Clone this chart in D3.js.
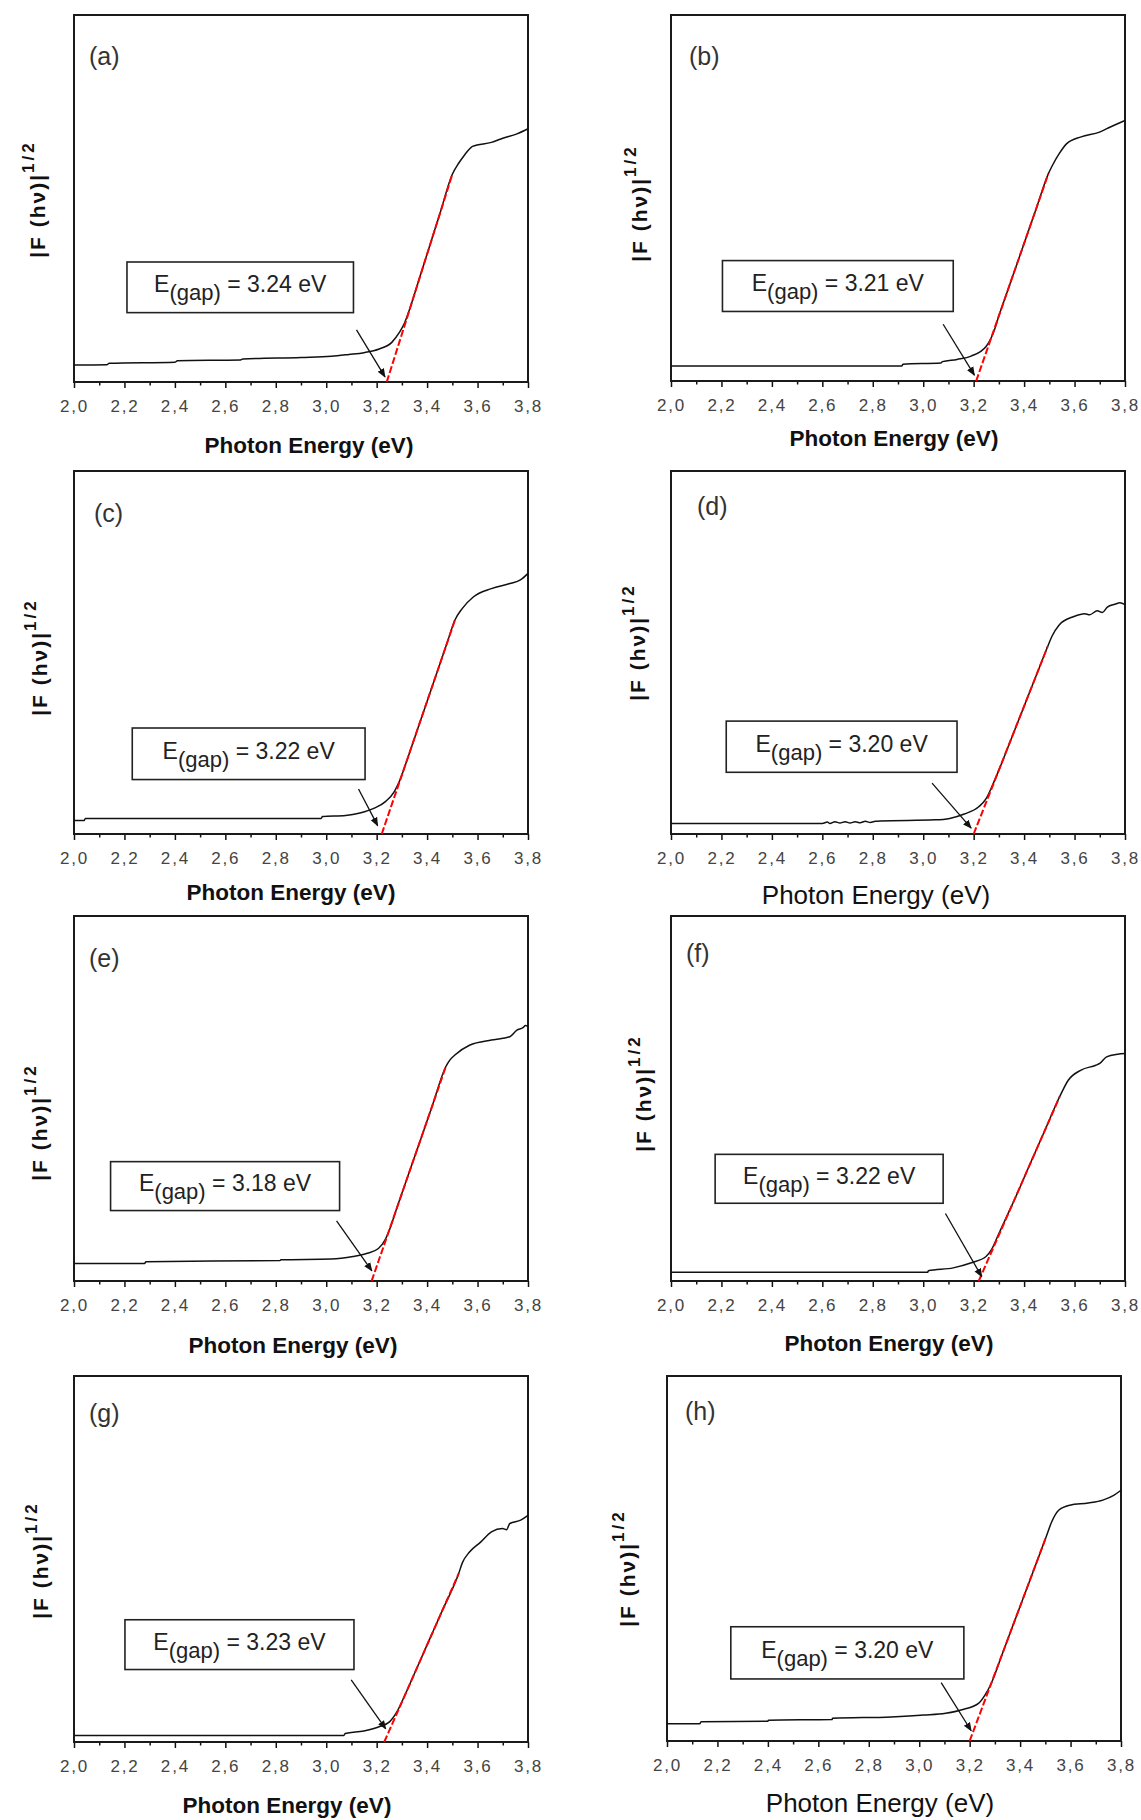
<!DOCTYPE html>
<html>
<head>
<meta charset="utf-8">
<script src="https://cdn.jsdelivr.net/npm/d3@7"></script>
<style>
  body { margin: 0; background: #fff; }
  svg text { font-family: "Liberation Sans", Arial, sans-serif; }
</style>
</head>
<body>
<div id="chart"></div>
<script>
// ---- data (x in eV, y as fraction of plot height) ----
var panelLetters = ["a", "b", "c", "d", "e", "f", "g", "h"];
var gapValues = [3.24, 3.21, 3.22, 3.20, 3.18, 3.22, 3.23, 3.20];
var xTicks = [2.0, 2.2, 2.4, 2.6, 2.8, 3.0, 3.2, 3.4, 3.6, 3.8];
var xMinorTicks = [2.1, 2.3, 2.5, 2.7, 2.9, 3.1, 3.3, 3.5, 3.7];

var curveA = [[2.00,0.046],[2.13,0.047],[2.14,0.051],[2.40,0.054],[2.41,0.058],[2.66,0.060],[2.67,0.063],[2.90,0.067],[3.02,0.070],[3.09,0.075],[3.15,0.080],[3.21,0.090],[3.26,0.108],[3.29,0.135],[3.31,0.160],[3.33,0.197],[3.35,0.240],[3.40,0.349],[3.45,0.457],[3.50,0.566],[3.525,0.596],[3.55,0.620],[3.568,0.635],[3.58,0.642],[3.655,0.653],[3.70,0.664],[3.756,0.676],[3.80,0.690]];
var curveB = [[2.00,0.041],[2.915,0.041],[2.92,0.046],[3.07,0.049],[3.076,0.053],[3.134,0.059],[3.19,0.068],[3.25,0.095],[3.28,0.135],[3.30,0.178],[3.32,0.218],[3.35,0.277],[3.40,0.376],[3.45,0.475],[3.496,0.566],[3.51,0.586],[3.539,0.621],[3.568,0.648],[3.626,0.667],[3.699,0.680],[3.742,0.694],[3.80,0.712]];
var curveC = [[2.00,0.037],[2.04,0.037],[2.045,0.043],[2.98,0.043],[2.985,0.048],[3.077,0.051],[3.134,0.058],[3.193,0.072],[3.236,0.090],[3.27,0.117],[3.29,0.145],[3.31,0.183],[3.33,0.223],[3.38,0.325],[3.43,0.426],[3.48,0.528],[3.51,0.589],[3.539,0.621],[3.583,0.653],[3.655,0.676],[3.728,0.690],[3.77,0.700],[3.80,0.718]];
var curveD = [[2.00,0.029],[2.60,0.029],[2.62,0.033],[2.63,0.029],[2.65,0.034],[2.67,0.030],[2.69,0.034],[2.71,0.030],[2.73,0.034],[2.75,0.031],[2.77,0.035],[2.79,0.032],[2.81,0.035],[2.83,0.036],[3.047,0.039],[3.105,0.043],[3.163,0.055],[3.22,0.075],[3.25,0.098],[3.275,0.135],[3.30,0.176],[3.35,0.264],[3.40,0.352],[3.45,0.440],[3.493,0.516],[3.51,0.544],[3.539,0.576],[3.597,0.599],[3.64,0.607],[3.66,0.604],[3.69,0.615],[3.71,0.610],[3.73,0.625],[3.76,0.633],[3.78,0.637],[3.80,0.632]];
var curveE = [[2.00,0.048],[2.28,0.048],[2.285,0.053],[2.817,0.056],[2.82,0.058],[3.019,0.060],[3.106,0.067],[3.163,0.076],[3.207,0.089],[3.235,0.115],[3.255,0.148],[3.275,0.190],[3.32,0.280],[3.37,0.379],[3.42,0.479],[3.474,0.587],[3.49,0.605],[3.51,0.619],[3.568,0.646],[3.655,0.660],[3.70,0.665],[3.728,0.669],[3.756,0.687],[3.78,0.694],[3.79,0.700],[3.80,0.698]];
var curveF = [[2.00,0.024],[3.018,0.024],[3.02,0.028],[3.119,0.036],[3.191,0.050],[3.249,0.067],[3.27,0.085],[3.30,0.130],[3.33,0.175],[3.36,0.220],[3.42,0.315],[3.48,0.409],[3.541,0.505],[3.575,0.550],[3.626,0.578],[3.684,0.591],[3.70,0.596],[3.727,0.614],[3.771,0.621],[3.80,0.623]];
var curveG = [[2.00,0.018],[3.07,0.018],[3.075,0.023],[3.149,0.030],[3.207,0.041],[3.251,0.055],[3.28,0.082],[3.31,0.125],[3.36,0.203],[3.41,0.281],[3.46,0.359],[3.525,0.460],[3.54,0.490],[3.568,0.519],[3.612,0.546],[3.655,0.574],[3.699,0.583],[3.715,0.580],[3.728,0.597],[3.771,0.606],[3.80,0.619]];
var curveH = [[2.00,0.047],[2.13,0.047],[2.135,0.053],[2.40,0.054],[2.402,0.057],[2.655,0.059],[2.656,0.062],[2.888,0.066],[3.018,0.071],[3.105,0.076],[3.177,0.087],[3.235,0.103],[3.26,0.125],[3.285,0.157],[3.33,0.240],[3.38,0.332],[3.43,0.424],[3.47,0.498],[3.503,0.559],[3.525,0.600],[3.553,0.632],[3.597,0.646],[3.67,0.652],[3.728,0.660],[3.771,0.673],[3.80,0.687]];
var curves = [curveA, curveB, curveC, curveD, curveE, curveF, curveG, curveH];

// upper end of the red linear fit (lower end sits on the gap value)
var fitTops = [[3.50,0.566],[3.496,0.566],[3.51,0.589],[3.493,0.516],[3.474,0.587],[3.541,0.505],[3.525,0.46],[3.503,0.559]];

// ---- annotations, in data units: label box [x0, x1, yTop, yBottom], arrow [x0, y0, x1, y1] ----
var boxes = [[2.21,3.108,0.327,0.189],[2.204,3.119,0.329,0.19],[2.231,3.154,0.292,0.15],[2.219,3.134,0.311,0.17],
             [2.145,3.053,0.327,0.193],[2.175,3.079,0.347,0.213],[2.202,3.11,0.334,0.198],[2.253,3.177,0.313,0.17]];
var arrows = [[3.12,0.142,3.233,0.014],[3.079,0.155,3.203,0.016],[3.128,0.124,3.204,0.023],[3.035,0.14,3.19,0.016],
              [3.041,0.165,3.181,0.028],[3.088,0.185,3.232,0.012],[3.099,0.17,3.236,0.036],[3.087,0.16,3.206,0.028]];

// ---- page layout (pixels) ----
var layout = [
  {L:74,  R:528,  T:15,   B:382,  tx:309, ty:445,  bold:true,  yx:37,  yy:199,  lx:89,  ly:65},
  {L:671, R:1125, T:15,   B:381,  tx:894, ty:438,  bold:true,  yx:639, yy:203,  lx:689, ly:65},
  {L:74,  R:528,  T:471,  B:834,  tx:291, ty:892,  bold:true,  yx:39,  yy:657,  lx:94,  ly:522},
  {L:671, R:1125, T:471,  B:834,  tx:876, ty:895,  bold:false, yx:637, yy:642,  lx:697, ly:515},
  {L:74,  R:528,  T:916,  B:1281, tx:293, ty:1345, bold:true,  yx:39,  yy:1122, lx:89,  ly:967},
  {L:671, R:1125, T:916,  B:1281, tx:889, ty:1343, bold:true,  yx:643, yy:1093, lx:686, ly:962},
  {L:74,  R:528,  T:1376, B:1742, tx:287, ty:1805, bold:true,  yx:40,  yy:1560, lx:89,  ly:1422},
  {L:667, R:1121, T:1376, B:1741, tx:880, ty:1803, bold:false, yx:627, yy:1568, lx:685, ly:1420}
];

var svg = d3.select("#chart").append("svg")
  .attr("width", 1141)
  .attr("height", 1820);

// arrow head
svg.append("defs").append("marker")
  .attr("id", "head")
  .attr("viewBox", "0 0 10 10")
  .attr("refX", 9).attr("refY", 5)
  .attr("markerWidth", 9).attr("markerHeight", 9)
  .attr("markerUnits", "userSpaceOnUse")
  .attr("orient", "auto")
  .append("path")
  .attr("d", "M0,1 L10,5 L0,9 Z")
  .attr("fill", "#111");

var fmt = function (d) { return d.toFixed(1).replace(".", ","); };

layout.forEach(function (p, i) {
  var x = d3.scaleLinear().domain([2.0, 3.8]).range([p.L, p.R]);
  var y = d3.scaleLinear().domain([0, 1]).range([p.B, p.T]);
  var g = svg.append("g");

  // minor ticks
  var minor = g.append("g")
    .attr("transform", "translate(0," + p.B + ")")
    .call(d3.axisBottom(x).tickValues(xMinorTicks).tickSize(3.5).tickFormat(""));
  minor.select(".domain").remove();
  minor.selectAll("line").attr("stroke", "#111").attr("stroke-width", 1.5);

  // major ticks + labels
  var ax = g.append("g")
    .attr("transform", "translate(0," + p.B + ")")
    .call(d3.axisBottom(x).tickValues(xTicks).tickSize(6).tickPadding(11.5).tickFormat(fmt));
  ax.select(".domain").remove();
  ax.selectAll("line").attr("stroke", "#111").attr("stroke-width", 1.5);
  ax.selectAll("text")
    .attr("font-size", 17)
    .attr("letter-spacing", 1.8)
    .attr("fill", "#444")
    .style("font-family", "'Liberation Sans', Arial, sans-serif");

  // frame
  g.append("rect")
    .attr("x", p.L).attr("y", p.T)
    .attr("width", p.R - p.L).attr("height", p.B - p.T)
    .attr("fill", "none")
    .attr("stroke", "#1a1a1a")
    .attr("stroke-width", 2);

  // measured curve
  var x0 = function (d) { return x(d[0]); }, y0 = function (d) { return y(d[1]); };
  g.append("path")
    .datum(curves[i])
    .attr("d", d3.line().x(x0).y(y0).curve(d3.curveMonotoneX))
    .attr("fill", "none")
    .attr("stroke", "#111")
    .attr("stroke-width", 1.5);

  // linear fit down to the gap
  g.append("path")
    .datum([[gapValues[i], 0], fitTops[i]])
    .attr("d", d3.line().x(x0).y(y0))
    .attr("fill", "none")
    .attr("stroke", "#ff0000")
    .attr("stroke-width", 2)
    .attr("stroke-dasharray", "7,2.5");

  // arrow
  var a = arrows[i];
  g.append("line")
    .attr("x1", x(a[0])).attr("y1", y(a[1]))
    .attr("x2", x(a[2])).attr("y2", y(a[3]))
    .attr("stroke", "#111")
    .attr("stroke-width", 1.3)
    .attr("marker-end", "url(#head)");

  // gap label box
  var b = boxes[i];
  g.append("rect")
    .attr("x", x(b[0])).attr("y", y(b[2]))
    .attr("width", x(b[1]) - x(b[0]))
    .attr("height", y(b[3]) - y(b[2]))
    .attr("fill", "#fff")
    .attr("stroke", "#222")
    .attr("stroke-width", 1.6);

  var lab = g.append("text")
    .attr("x", (x(b[0]) + x(b[1])) / 2)
    .attr("y", (y(b[2]) + y(b[3])) / 2 + 5)
    .attr("text-anchor", "middle")
    .attr("font-size", 23)
    .attr("fill", "#222");
  lab.append("tspan").text("E");
  lab.append("tspan").attr("dy", 8).attr("font-size", 22).text("(gap)");
  lab.append("tspan").attr("dy", -8).text(" = " + gapValues[i].toFixed(2) + " eV");

  // panel letter
  g.append("text")
    .attr("x", p.lx).attr("y", p.ly)
    .attr("font-size", 25)
    .attr("fill", "#333")
    .text("(" + panelLetters[i] + ")");

  // x axis title
  g.append("text")
    .attr("x", p.tx)
    .attr("y", p.ty + (p.bold ? 8 : 9))
    .attr("text-anchor", "middle")
    .attr("font-size", p.bold ? 22.5 : 26)
    .attr("font-weight", p.bold ? "bold" : "normal")
    .attr("fill", "#111")
    .text("Photon Energy (eV)");

  // y axis title
  var yt = g.append("text")
    .attr("transform", "translate(" + p.yx + "," + p.yy + ") rotate(-90)")
    .attr("text-anchor", "middle")
    .attr("dy", "0.36em")
    .attr("font-size", 21)
    .attr("font-weight", "bold")
    .attr("letter-spacing", 2)
    .attr("fill", "#111");
  yt.append("tspan").text("|F (h\u03bd)|");
  yt.append("tspan").attr("dy", -11).attr("font-size", 17).attr("letter-spacing", 3).text("1/2");
});
</script>
</body>
</html>
